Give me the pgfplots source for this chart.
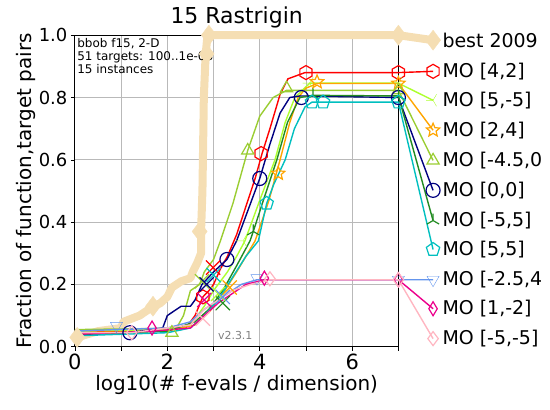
\documentclass[border=0pt]{standalone}
\usepackage{pgfplots}
\pgfplotsset{compat=1.18}
\usepackage{fontspec}
\setmainfont{DejaVu Sans}
\usetikzlibrary{plotmarks}

\definecolor{wheatc}{RGB}{245,222,179}
\definecolor{limec}{RGB}{173,255,47}
\definecolor{ygreen}{RGB}{154,205,50}
\definecolor{navyc}{RGB}{0,0,128}
\definecolor{fgreen}{RGB}{34,139,34}
\definecolor{cyanc}{RGB}{0,191,191}
\definecolor{cblue}{RGB}{100,149,237}
\definecolor{pinkc}{RGB}{255,182,193}
\definecolor{orangec}{RGB}{255,165,0}
\definecolor{gridc}{RGB}{185,185,185}

% open hexagon
\pgfdeclareplotmark{hexagon}{%
  \pgfpathmoveto{\pgfqpointpolar{90}{\pgfplotmarksize}}%
  \pgfpathlineto{\pgfqpointpolar{150}{\pgfplotmarksize}}%
  \pgfpathlineto{\pgfqpointpolar{210}{\pgfplotmarksize}}%
  \pgfpathlineto{\pgfqpointpolar{270}{\pgfplotmarksize}}%
  \pgfpathlineto{\pgfqpointpolar{330}{\pgfplotmarksize}}%
  \pgfpathlineto{\pgfqpointpolar{30}{\pgfplotmarksize}}%
  \pgfpathclose\pgfusepathqstroke}
% open five-pointed star
\pgfdeclareplotmark{ostar}{%
  \pgfpathmoveto{\pgfqpointpolar{90}{\pgfplotmarksize}}%
  \pgfpathlineto{\pgfqpointpolar{126}{0.45\pgfplotmarksize}}%
  \pgfpathlineto{\pgfqpointpolar{162}{\pgfplotmarksize}}%
  \pgfpathlineto{\pgfqpointpolar{198}{0.45\pgfplotmarksize}}%
  \pgfpathlineto{\pgfqpointpolar{234}{\pgfplotmarksize}}%
  \pgfpathlineto{\pgfqpointpolar{270}{0.45\pgfplotmarksize}}%
  \pgfpathlineto{\pgfqpointpolar{306}{\pgfplotmarksize}}%
  \pgfpathlineto{\pgfqpointpolar{342}{0.45\pgfplotmarksize}}%
  \pgfpathlineto{\pgfqpointpolar{18}{\pgfplotmarksize}}%
  \pgfpathlineto{\pgfqpointpolar{54}{0.45\pgfplotmarksize}}%
  \pgfpathclose\pgfusepathqstroke}
% open thin diamond
\pgfdeclareplotmark{thindiamond}{%
  \pgfpathmoveto{\pgfqpoint{0pt}{\pgfplotmarksize}}%
  \pgfpathlineto{\pgfqpoint{-0.6\pgfplotmarksize}{0pt}}%
  \pgfpathlineto{\pgfqpoint{0pt}{-\pgfplotmarksize}}%
  \pgfpathlineto{\pgfqpoint{0.6\pgfplotmarksize}{0pt}}%
  \pgfpathclose\pgfusepathqstroke}

\begin{document}
\begin{tikzpicture}
\begin{axis}[
  scale only axis,
  width=323bp, height=311bp,
  xmin=0, xmax=7, ymin=0, ymax=1,
  clip=false,
  axis line style={black, line width=0.8bp},
  xtick={0,1,2,3,4,5,6,7},
  xticklabels={0,,2,,4,,6,},
  ytick={0,0.2,0.4,0.6,0.8,1.0},
  /pgf/number format/assume math mode=true,
  yticklabel style={font=\fontsize{18}{21}\selectfont,
    /pgf/number format/fixed, /pgf/number format/fixed zerofill,
    /pgf/number format/precision=1},
  xticklabel style={font=\fontsize{21}{24}\selectfont},
  tick align=outside, tick pos=left,
  major tick length=4bp,
  tick style={black, line width=0.6bp},
  grid=major,
  grid style={gridc, line width=0.8bp},
  title={15 Rastrigin},
  title style={font=\fontsize{22}{26}\selectfont, yshift=-2bp},
  xlabel={log10(\# f-evals / dimension)},
  ylabel={Fraction of function,target pairs},
  label style={font=\fontsize{20}{23}\selectfont},
  xlabel style={yshift=2bp},
  ylabel style={yshift=-4bp},
]
% overall canvas
\path (axis cs:-1.62,-0.203) rectangle (axis cs:10.28,1.113);

% best 2009
\addplot[wheatc, line width=8bp, line join=round] coordinates {
 (0,0.02) (0.05,0.03) (0.5,0.05) (1.0,0.06) (1.05,0.08) (1.4,0.10) (1.6,0.12)
 (1.85,0.14) (2.0,0.16) (2.1,0.19) (2.3,0.21) (2.5,0.22) (2.55,0.24)
 (2.65,0.27) (2.73,0.30) (2.73,0.37) (2.76,0.5) (2.79,0.8) (2.83,0.94)
 (2.87,1.0) (7,1.0) (7.75,0.984)};
\addplot[wheatc, only marks, mark=diamond*, mark size=10bp, mark options={fill=wheatc, draw=wheatc}] coordinates {
 (0.05,0.03) (1.69,0.13) (2.7,0.37) (2.85,0.94) (2.9,1.0) (7,1.0) (7.75,0.984)};

% MO [4,2]
\addplot[red, line width=1.4bp] coordinates {
 (0,0.045) (1.0,0.05) (2.0,0.055) (2.4,0.06) (2.6,0.10) (2.77,0.16) (2.9,0.18)
 (3.0,0.20) (3.15,0.25) (3.3,0.29) (3.5,0.36) (3.7,0.45) (3.9,0.54) (4.05,0.62)
 (4.22,0.70) (4.44,0.81) (4.61,0.86) (4.98,0.88) (7,0.88) (7.75,0.884)};
% MO [5,-5]
\addplot[limec, line width=1.4bp] coordinates {
 (0,0.05) (2.0,0.055) (2.5,0.07) (2.8,0.13) (3.0,0.18) (3.3,0.24) (3.5,0.29)
 (3.68,0.34) (4.0,0.47) (4.33,0.60) (4.55,0.72) (4.76,0.80) (5.08,0.846)
 (7,0.846) (7.75,0.791)};
% MO [2,4]
\addplot[orangec, line width=1.4bp] coordinates {
 (0,0.045) (2.0,0.05) (2.6,0.07) (2.9,0.11) (3.2,0.17) (3.5,0.24) (3.9,0.34)
 (4.2,0.47) (4.44,0.60) (4.65,0.72) (4.83,0.80) (5.0,0.83) (5.24,0.845)
 (7,0.845) (7.75,0.695)};
% MO [-4.5,0]
\addplot[ygreen, line width=1.4bp] coordinates {
 (0,0.055) (1.5,0.058) (2.2,0.06) (2.35,0.10) (2.5,0.18) (2.7,0.20) (2.8,0.24)
 (3.0,0.28) (3.15,0.34) (3.42,0.46) (3.74,0.63) (4.0,0.74) (4.29,0.80)
 (4.58,0.823) (7,0.823) (7.75,0.598)};
% MO [0,0]
\addplot[navyc, line width=1.4bp] coordinates {
 (0,0.04) (1.0,0.042) (1.19,0.045) (1.9,0.06) (2.0,0.10) (2.1,0.11) (2.3,0.13)
 (2.5,0.13) (2.6,0.15) (2.75,0.20) (3.0,0.24) (3.29,0.28) (3.5,0.34) (3.7,0.42)
 (4.0,0.54) (4.22,0.65) (4.44,0.75) (4.65,0.80) (4.87,0.805) (7,0.80) (7.75,0.502)};
% MO [-5,5]
\addplot[fgreen, line width=1.4bp] coordinates {
 (0,0.04) (2.0,0.05) (2.6,0.08) (2.9,0.12) (3.2,0.18) (3.5,0.26) (3.79,0.34)
 (3.86,0.37) (4.1,0.48) (4.37,0.60) (4.6,0.72) (4.87,0.80) (5.15,0.807)
 (7,0.805) (7.75,0.405)};
% MO [5,5]
\addplot[cyanc, line width=1.4bp] coordinates {
 (0,0.035) (2.0,0.045) (2.5,0.06) (2.8,0.10) (3.1,0.15) (3.4,0.22) (3.7,0.29)
 (3.97,0.34) (4.15,0.46) (4.3,0.52) (4.55,0.60) (4.75,0.70) (4.98,0.77)
 (5.13,0.785) (7,0.785) (7.75,0.312)};
% MO [-2.5,4]
\addplot[cblue, line width=1.4bp] coordinates {
 (0,0.05) (0.9,0.055) (2.0,0.06) (2.5,0.08) (2.8,0.12) (3.1,0.15) (3.4,0.18)
 (3.6,0.20) (3.94,0.215) (7,0.215) (7.75,0.215)};
% MO [1,-2]
\addplot[magenta, line width=1.4bp] coordinates {
 (0,0.04) (1.67,0.05) (2.5,0.06) (2.8,0.10) (3.1,0.14) (3.4,0.17) (3.7,0.20)
 (4.1,0.215) (7,0.215) (7.75,0.122)};
% MO [-5,-5]
\addplot[pinkc, line width=1.4bp] coordinates {
 (0,0.045) (1.23,0.045) (2.5,0.07) (2.8,0.12) (3.1,0.15) (3.4,0.18) (3.8,0.20)
 (4.22,0.215) (7,0.215) (7.75,0.026)};

% markers
\pgfplotsset{mk/.style={only marks, mark size=7bp, mark options={line width=1.2bp, fill=none}}}
\addplot[mk, red, mark=hexagon] coordinates {(2.77,0.16) (4.03,0.62) (5.0,0.88) (7,0.88) (7.75,0.884)};
\addplot[mk, limec, mark=Mercedes star, mark options={rotate=90}] coordinates {(3.64,0.34) (5.08,0.846) (7,0.846) (7.75,0.791)};
\addplot[mk, orangec, mark=ostar] coordinates {(4.4,0.556) (5.24,0.85) (7,0.845) (7.75,0.695)};
\addplot[mk, ygreen, mark=triangle] coordinates {(2.1,0.045) (3.74,0.63) (4.58,0.83) (7,0.823) (7.75,0.598)};
\addplot[mk, navyc, mark=o] coordinates {(1.19,0.045) (3.29,0.28) (4.0,0.54) (4.9,0.80) (7,0.80) (7.75,0.502)};
\addplot[mk, fgreen, mark=Mercedes star] coordinates {(3.86,0.37) (5.15,0.807) (7,0.805) (7.75,0.405)};
\addplot[mk, cyanc, mark=pentagon] coordinates {(4.15,0.46) (5.13,0.785) (5.37,0.785) (7,0.785) (7.75,0.312)};
\addplot[mk, cblue, mark=triangle, mark options={rotate=180}] coordinates {(0.9,0.067) (3.94,0.22) (7,0.215) (7.75,0.215)};
\addplot[mk, magenta, mark=thindiamond] coordinates {(1.67,0.06) (4.1,0.22) (7,0.215) (7.75,0.122)};
\addplot[mk, pinkc, mark=diamond] coordinates {(1.23,0.045) (4.22,0.218) (7,0.215) (7.75,0.026)};

% budget crosses
\pgfplotsset{bx/.style={only marks, mark=x, mark size=10bp, mark options={line width=1.2bp}}}
\addplot[bx, red] coordinates {(2.99,0.254)};
\addplot[bx, ygreen] coordinates {(2.75,0.21)};
\addplot[bx, fgreen] coordinates {(3.2,0.14)};
\addplot[bx, orangec] coordinates {(3.35,0.19)};
\addplot[bx, cyanc] coordinates {(3.0,0.23)};
\addplot[bx, limec] coordinates {(3.1,0.17)};
\addplot[bx, navyc] coordinates {(2.85,0.2)};
\addplot[bx, magenta] coordinates {(2.8,0.15)};
\addplot[bx, pinkc] coordinates {(2.77,0.09)};
\addplot[bx, cblue] coordinates {(3.2,0.16)};

% legend texts
\begin{scope}[every node/.style={anchor=west, inner sep=0pt, font=\fontsize{19}{22}\selectfont}]
\node at (axis cs:7.95,0.984) {best 2009};
\node at (axis cs:7.95,0.884) {MO [4,2]};
\node at (axis cs:7.95,0.791) {MO [5,-5]};
\node at (axis cs:7.95,0.695) {MO [2,4]};
\node at (axis cs:7.95,0.598) {MO [-4.5,0};
\node at (axis cs:7.95,0.502) {MO [0,0]};
\node at (axis cs:7.95,0.405) {MO [-5,5]};
\node at (axis cs:7.95,0.312) {MO [5,5]};
\node at (axis cs:7.95,0.215) {MO [-2.5,4};
\node at (axis cs:7.95,0.122) {MO [1,-2]};
\node at (axis cs:7.95,0.026) {MO [-5,-5]};
\end{scope}

% info text
\node[anchor=north west, align=left, inner sep=0pt, font=\fontsize{12}{13}\selectfont]
  at (axis cs:0.05,0.99) {bbob f15, 2-D\\51 targets: 100..1e-08\\15 instances};
\node[anchor=center, text=gray, font=\fontsize{11}{13}\selectfont] at (axis cs:3.47,0.035) {v2.3.1};
\end{axis}
\end{tikzpicture}
\end{document}
